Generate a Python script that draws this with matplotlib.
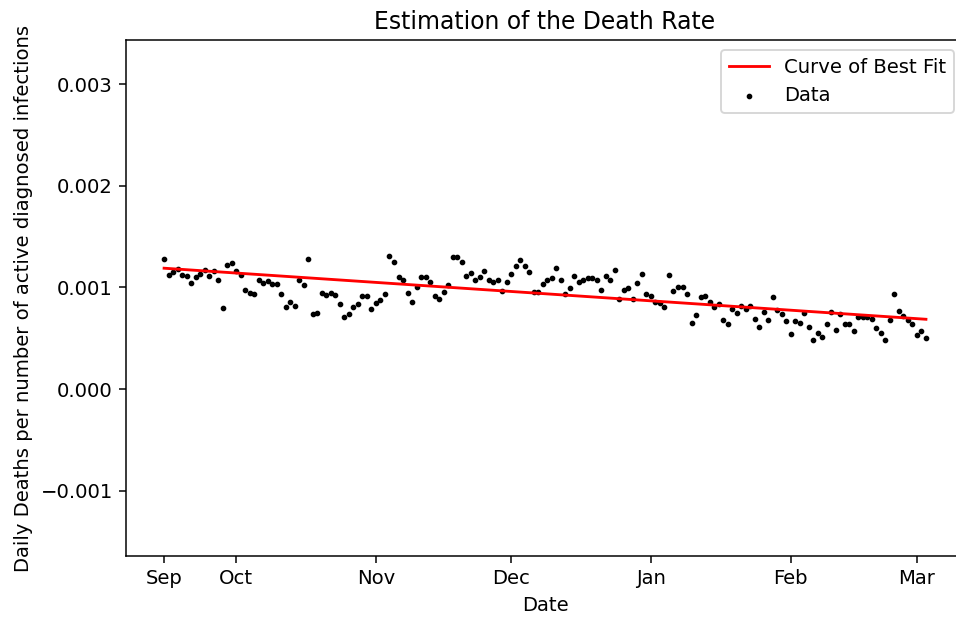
import matplotlib
matplotlib.use('Agg')
import matplotlib.pyplot as plt
import numpy as np

# daily death rate, one value per day starting 15 Sep 2020 (values in units of 1e-3)
rate = [1.281, 1.126, 1.150, 1.185, 1.126, 1.113, 1.044, 1.100, 1.136, 1.175,
        1.113, 1.159, 1.074, 0.795, 1.225, 1.241, 1.163, 1.126, 0.975, 0.946,
        0.933, 1.074, 1.041, 1.061, 1.031, 1.031, 0.933, 0.811,
        0.860, 0.821, 1.074, 1.028, 1.281, 0.736, 0.749, 0.943, 0.929, 0.946,
        0.929, 0.834, 0.706, 0.736, 0.808, 0.837, 0.916, 0.916, 0.791, 0.847,
        0.874, 0.933, 1.310, 1.251, 1.100, 1.074, 0.946,
        0.860, 1.005, 1.100, 1.100, 1.057, 0.916, 0.890, 0.959, 1.028, 1.297,
        1.297, 1.251, 1.113, 1.143, 1.071, 1.100, 1.159, 1.074, 1.057, 1.074,
        0.966, 1.057, 1.130, 1.212, 1.271, 1.212, 1.156, 0.959,
        0.959, 1.031, 1.074, 1.090, 1.195, 1.071, 0.933, 0.992, 1.116, 1.057,
        1.074, 1.090, 1.090, 1.071, 0.975, 1.116, 1.071, 1.172, 0.884, 0.975,
        0.992, 0.890, 1.041, 1.130, 0.933, 0.919, 0.854,
        0.850, 0.805, 1.126, 0.962, 1.005, 1.005, 0.933, 0.650, 0.726, 0.903,
        0.919, 0.860, 0.811, 0.834, 0.680, 0.637, 0.791, 0.749, 0.821, 0.791,
        0.821, 0.693, 0.608, 0.762, 0.680, 0.906, 0.782, 0.736, 0.667,
        0.542, 0.667, 0.650, 0.749, 0.611, 0.483, 0.555, 0.512, 0.637, 0.756,
        0.581, 0.739, 0.637, 0.637, 0.568, 0.706, 0.706, 0.706, 0.693, 0.598,
        0.555, 0.483, 0.680, 0.933, 0.766, 0.719, 0.680, 0.637, 0.529, 0.568,
        0.500]
rate = np.array(rate) * 1e-3
days = np.arange(len(rate))

# best fit line (start / end value)
fit_start = 1.19e-3
fit_end = 0.687e-3

tick_days = [0, 16, 47, 77, 108, 139, 167]
tick_labels = ['Sep', 'Oct', 'Nov', 'Dec', 'Jan', 'Feb', 'Mar']

fit = fit_start + (fit_end - fit_start) * days / days[-1]

plt.rcParams['font.size'] = 10.4

dpi = 136
fig = plt.figure(figsize=(956 / dpi, 620 / dpi), dpi=dpi)
# the right edge of the axes lies just outside the picture, as in the original
ax = fig.add_axes([0.1318, 0.1032, 0.8766, 0.8323])

ax.plot(days, fit, 'r', label='Curve of Best Fit')
ax.scatter(days, rate, s=4, c='k', label='Data')

ax.set_xticks(tick_days)
ax.set_xticklabels(tick_labels)
ax.set_ylim(-0.001645, 0.003438)
ax.set_title('Estimation of the Death Rate')
ax.set_xlabel('Date')
ax.set_ylabel('Daily Deaths per number of active diagnosed infections')
ax.legend(loc='upper right')

fig.savefig('out.png', dpi=dpi)
